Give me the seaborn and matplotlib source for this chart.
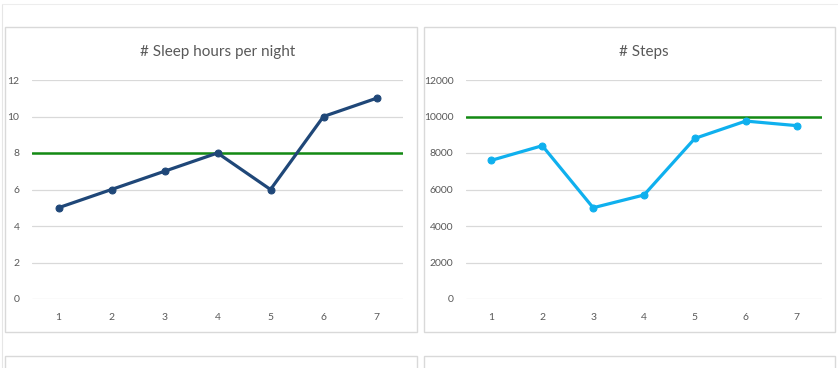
import pandas as pd
import matplotlib.pyplot as plt
import seaborn as sns
from matplotlib.patches import Rectangle

# data
days = [1, 2, 3, 4, 5, 6, 7]
sleep_hours = [5, 6, 7, 8, 6, 10, 11]
sleep_target = 8
steps = [7600, 8400, 5000, 5700, 8800, 9750, 9500]
steps_target = 10000
sleep_ticks = [0, 2, 4, 6, 8, 10, 12]
steps_ticks = [0, 2000, 4000, 6000, 8000, 10000, 12000]

sns.set_style("white")
plt.rcParams['font.family'] = ['Lato', 'DejaVu Sans']

W, H = 838, 368
fig = plt.figure(figsize=(W / 100, H / 100), dpi=100)
fig.patch.set_facecolor("white")

TEXT = "#595959"
GRID = "#D9D9D9"
GREEN = "#138A13"


def px_box(x0, y0, x1, y1):
    """Convert pixel box (top-left origin) to figure fraction rect."""
    return [x0 / W, 1 - y1 / H, (x1 - x0) / W, (y1 - y0) / H]


def panel(x0, y0, x1, y1):
    l, b, w, h = px_box(x0, y0, x1, y1)
    fig.patches.append(Rectangle((l, b), w, h, transform=fig.transFigure,
                                 facecolor="none", edgecolor="#D9D9D9",
                                 linewidth=1.0, zorder=-1))


# outer sheet edges and chart frames
fig.add_artist(plt.Line2D([2 / W, 2 / W], [0, 1 - 4 / H], color="#E6E6E6", lw=0.8, zorder=-1))
fig.add_artist(plt.Line2D([2 / W, 1], [1 - 4 / H, 1 - 4 / H], color="#EDEDED", lw=0.8, zorder=-1))
panel(5, 27, 417, 332)
panel(424, 27, 835, 332)
panel(5, 356, 417, 380)
panel(424, 356, 835, 380)


def draw(rect, values, target, ticks, color, title):
    ax = fig.add_axes(px_box(*rect))
    ax.set_facecolor("none")
    df = pd.DataFrame({"day": days, "value": values})
    sns.lineplot(data=df, x="day", y="value", ax=ax, color=color,
                 linewidth=2.3, marker="o", markersize=5,
                 markeredgecolor=color, zorder=3)
    ax.axhline(target, color=GREEN, linewidth=1.8, zorder=2)
    ax.set_xlim(0.5, 7.5)
    ax.set_ylim(ticks[0], ticks[-1])
    ax.set_yticks(ticks)
    ax.set_xticks(days)
    ax.yaxis.grid(True, color=GRID, linewidth=0.9)
    ax.set_axisbelow(True)
    for s in ax.spines.values():
        s.set_visible(False)
    ax.tick_params(length=0, labelsize=7.5, colors=TEXT)
    ax.tick_params(axis="y", pad=9)
    ax.tick_params(axis="x", pad=10)
    ax.set_xlabel("")
    ax.set_ylabel("")
    ax.set_title(title, fontsize=11, color=TEXT, pad=17)
    return ax


draw((32, 80, 403, 299), sleep_hours, sleep_target, sleep_ticks,
     "#1F4778", "# Sleep hours per night")
draw((466, 80, 822, 299), steps, steps_target, steps_ticks,
     "#0FB0EE", "# Steps")

plt.savefig("out.png", dpi=100)
